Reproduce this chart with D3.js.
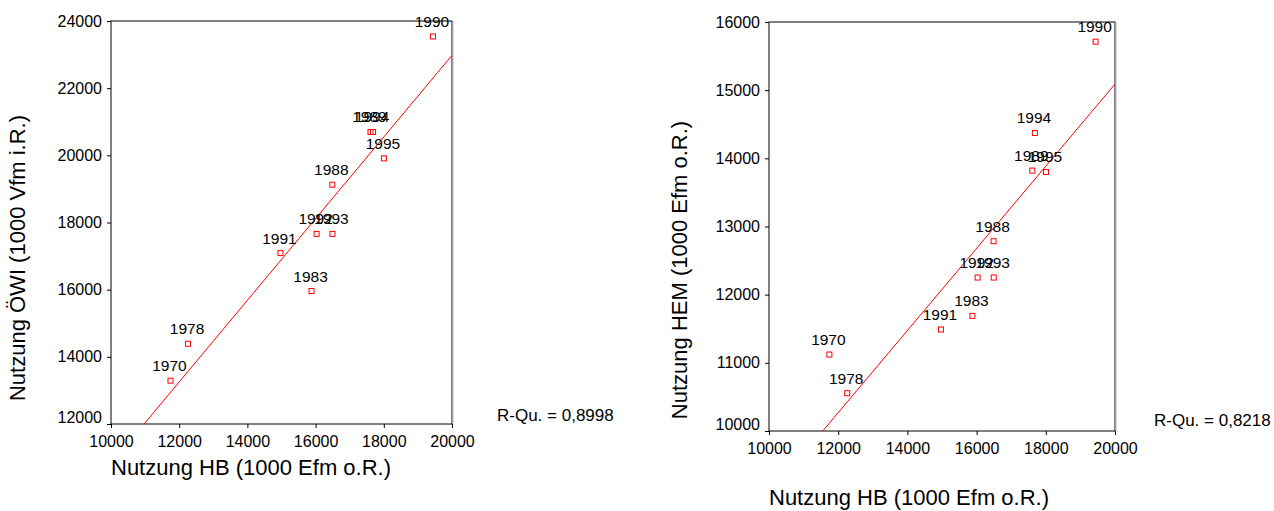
<!DOCTYPE html>
<html>
<head>
<meta charset="utf-8">
<script src="https://cdn.jsdelivr.net/npm/d3@7"></script>
<style>
  body { margin: 0; background: #fff; }
  svg { font-family: "Liberation Sans", Arial, sans-serif; }
  .tick line { stroke: #000; }
  .domain { display: none; }
</style>
</head>
<body>
<svg width="1274" height="511"></svg>
<script>
/* data */

const years = ["1970", "1978", "1983", "1988", "1989", "1990", "1991", "1992", "1993", "1994", "1995"];

// x: Nutzung HB (1000 Efm o.R.)
const nutzungHB = [11745, 12260, 15880, 16490, 17610, 19440, 14970, 16030, 16495, 17685, 18005];
// left y: Nutzung ÖWI (1000 Vfm i.R.)
const nutzungOEWI = [13290, 14390, 15960, 19125, 20695, 23540, 17090, 17660, 17660, 20695, 19910];
// right y: Nutzung HEM (1000 Efm o.R.)
const nutzungHEM = [11122, 10555, 11689, 12784, 13820, 15711, 11489, 12251, 12251, 14372, 13800];

const xTicks = [10000, 12000, 14000, 16000, 18000, 20000];
const leftYTicks = [12000, 14000, 16000, 18000, 20000, 22000, 24000];
const rightYTicks = [10000, 11000, 12000, 13000, 14000, 15000, 16000];

const xTitle = "Nutzung HB (1000 Efm o.R.)";
const yTitles = ["Nutzung ÖWI (1000 Vfm i.R.)", "Nutzung HEM (1000 Efm o.R.)"];
const rSquaredLabels = ["R-Qu. = 0,8998", "R-Qu. = 0,8218"];

var svg = d3.select("svg");

// least squares fit, same as SPSS "Anpassungslinie"
function linearFit(xs, ys) {
  let mx = d3.mean(xs), my = d3.mean(ys);
  let sxy = 0, sxx = 0;
  for (let i = 0; i < xs.length; i++) {
    sxy += (xs[i] - mx) * (ys[i] - my);
    sxx += (xs[i] - mx) * (xs[i] - mx);
  }
  let b = sxy / sxx;
  return { a: my - b * mx, b: b };
}

function drawPanel(p) {
  let g = svg.append("g").attr("id", p.id);

  let x = d3.scaleLinear().domain([10000, 20000]).range([p.left, p.right]);
  let y = d3.scaleLinear().domain(p.yDomain).range([p.bottom, p.top]);

  g.append("clipPath")
    .attr("id", p.id + "-clip")
    .append("rect")
    .attr("x", p.left)
    .attr("y", p.top)
    .attr("width", p.right - p.left)
    .attr("height", p.bottom - p.top);

  // frame
  g.append("rect")
    .attr("x", p.left)
    .attr("y", p.top)
    .attr("width", p.right - p.left)
    .attr("height", p.bottom - p.top)
    .attr("fill", "none")
    .attr("stroke", "#000")
    .attr("stroke-width", 1);
  g.append("line")
    .attr("x1", p.right + 1).attr("x2", p.right + 1)
    .attr("y1", p.top).attr("y2", p.bottom)
    .attr("stroke", "#bbb");

  let yAxis = g.append("g")
    .attr("transform", "translate(" + p.left + ",0)")
    .call(d3.axisLeft(y).tickValues(p.yTicks).tickSize(4).tickPadding(5).tickFormat(d3.format("d")));
  yAxis.selectAll("text")
    .attr("font-size", "16px")
    .attr("fill", "#000")
    .attr("dy", d => d == p.yDomain[0] ? "-0.1em" : "0.32em");

  let xAxis = g.append("g")
    .attr("transform", "translate(0," + p.bottom + ")")
    .call(d3.axisBottom(x).tickValues(xTicks).tickSize(4).tickPadding(8).tickFormat(d3.format("d")));
  xAxis.selectAll("text")
    .attr("font-size", "16px")
    .attr("fill", "#000");

  // fit line
  let fit = linearFit(nutzungHB, p.values);
  g.append("line")
    .attr("clip-path", "url(#" + p.id + "-clip)")
    .attr("x1", x(10000))
    .attr("y1", y(fit.a + fit.b * 10000))
    .attr("x2", x(20000))
    .attr("y2", y(fit.a + fit.b * 20000))
    .attr("stroke", "#ff0000")
    .attr("stroke-width", 1);

  let pts = years.map((yr, i) => ({ year: yr, hb: nutzungHB[i], v: p.values[i] }));

  g.selectAll(".pt")
    .data(pts)
    .enter().append("rect")
    .attr("class", "pt")
    .attr("x", d => x(d.hb) - 2.5)
    .attr("y", d => y(d.v) - 2.5)
    .attr("width", 5)
    .attr("height", 5)
    .attr("fill", "none")
    .attr("stroke", "#ff0000")
    .attr("stroke-width", 1);

  g.selectAll(".yr")
    .data(pts)
    .enter().append("text")
    .attr("class", "yr")
    .attr("x", d => x(d.hb) - 1)
    .attr("y", d => y(d.v) - 9.5)
    .attr("text-anchor", "middle")
    .attr("font-size", "15.5px")
    .attr("fill", "#000")
    .text(d => d.year);

  g.append("text")
    .attr("x", p.left)
    .attr("y", p.xTitleY)
    .attr("font-size", "22px")
    .attr("fill", "#000")
    .text(xTitle);

  g.append("text")
    .attr("transform", "translate(" + p.yTitleX + "," + p.yTitleY + ") rotate(-90)")
    .attr("text-anchor", "middle")
    .attr("font-size", "22px")
    .attr("fill", "#000")
    .text(p.yTitle);

  g.append("text")
    .attr("x", p.rqX)
    .attr("y", p.rqY)
    .attr("font-size", "17px")
    .attr("fill", "#000")
    .text(p.rq);
}

drawPanel({
  id: "left", left: 111, right: 452, top: 21, bottom: 424,
  yDomain: [12000, 24000], yTicks: leftYTicks, values: nutzungOEWI,
  yTitle: yTitles[0], yTitleX: 25, yTitleY: 258,
  xTitleY: 475, rq: rSquaredLabels[0], rqX: 497, rqY: 421
});

drawPanel({
  id: "right", left: 769, right: 1115, top: 22, bottom: 431,
  yDomain: [10000, 16000], yTicks: rightYTicks, values: nutzungHEM,
  yTitle: yTitles[1], yTitleX: 687, yTitleY: 270,
  xTitleY: 505, rq: rSquaredLabels[1], rqX: 1154, rqY: 426
});
</script>
</body>
</html>
